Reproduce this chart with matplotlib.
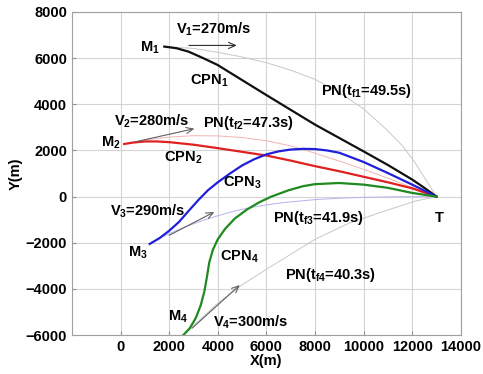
import numpy as np
import matplotlib
matplotlib.use('Agg')
import matplotlib.pyplot as plt

plt.rcParams['font.family'] = ['Liberation Sans', 'DejaVu Sans']
plt.rcParams['font.weight'] = 'bold'
plt.rcParams['mathtext.fontset'] = 'custom'
plt.rcParams['mathtext.rm'] = 'Liberation Sans:bold'
plt.rcParams['mathtext.it'] = 'Liberation Sans:bold'
plt.rcParams['mathtext.default'] = 'rm'

# CPN trajectories (x, y in m)
cpn1_x = [1800, 2300, 2800, 3400, 4000, 5000, 6000, 7000, 8000, 9000, 10000, 11000, 12000, 12500, 13000]
cpn1_y = [6500, 6430, 6280, 6000, 5700, 5050, 4400, 3760, 3120, 2540, 1960, 1370, 740, 380, 0]

cpn2_x = [150, 500, 1000, 1500, 2000, 3000, 4000, 5000, 6000, 7000, 8000, 9000, 10000, 11000, 12000, 13000]
cpn2_y = [2280, 2340, 2390, 2390, 2360, 2250, 2100, 1940, 1780, 1560, 1320, 1100, 860, 620, 360, 0]

cpn3_x = [1200, 1600, 2000, 2400, 2800, 3200, 3600, 4000, 4500, 5000, 5500, 6000, 6500, 7000, 7500, 8000, 8500, 9000, 10000, 11000, 12000, 13000]
cpn3_y = [-2050, -1800, -1480, -1100, -620, -150, 280, 620, 1000, 1350, 1620, 1830, 1960, 2040, 2070, 2060, 2000, 1900, 1500, 1020, 520, 0]

cpn4_x = [2580, 2850, 3100, 3300, 3450, 3550, 3650, 3800, 4000, 4300, 4700, 5200, 5700, 6200, 6900, 7500, 8000, 9000, 10000, 11000, 12000, 13000]
cpn4_y = [-6000, -5700, -5250, -4700, -4100, -3500, -2850, -2300, -1850, -1400, -950, -560, -250, 0, 270, 450, 540, 590, 520, 380, 160, 0]

# PN trajectories
pn1_x = [1800, 3000, 4000, 5000, 6000, 7000, 8000, 9000, 10000, 10900, 11600, 12100, 12550, 13000]
pn1_y = [6500, 6420, 6250, 6050, 5800, 5480, 5080, 4520, 3800, 2950, 2200, 1500, 750, 0]

pn2_x = [150, 1000, 2000, 3000, 4000, 5000, 6000, 7000, 8000, 9000, 10000, 11000, 12000, 13000]
pn2_y = [2280, 2450, 2580, 2640, 2630, 2560, 2420, 2200, 1880, 1540, 1180, 800, 400, 0]

pn3_x = [1200, 1800, 2500, 3200, 3900, 4600, 5300, 6000, 6700, 8000, 9000, 10000, 11500, 13000]
pn3_y = [-2050, -1700, -1380, -1100, -860, -650, -480, -360, -260, -130, -70, -30, -5, 0]

pn4_x = [2600, 3300, 4000, 5000, 6000, 7000, 8000, 9400, 10800, 12100, 13000]
pn4_y = [-6000, -5300, -4620, -3820, -3150, -2500, -1850, -1150, -650, -200, 0]

# velocity arrows (start, end)
arrows = [((2700, 6550), (4900, 6550)),
          ((500, 2350), (3150, 2970)),
          ((1900, -1730), (3960, -610)),
          ((2860, -5780), (4990, -3750))]
arrow_colors = ['#303030', '#606060', '#606060', '#606060']

# annotation texts: (x, y, text)
labels = [(2300, 7250, r'V$_1$=270m/s'),
          (800, 6450, r'M$_1$'),
          (2850, 5000, r'CPN$_1$'),
          (8250, 4580, r'PN(t$_{f1}$=49.5s)'),
          (-250, 3280, r'V$_2$=280m/s'),
          (3400, 3200, r'PN(t$_{f2}$=47.3s)'),
          (-800, 2330, r'M$_2$'),
          (1800, 1680, r'CPN$_2$'),
          (4200, 590, r'CPN$_3$'),
          (-450, -620, r'V$_3$=290m/s'),
          (6280, -925, r'PN(t$_{f3}$=41.9s)'),
          (12950, -925, 'T'),
          (300, -2440, r'M$_3$'),
          (4080, -2615, r'CPN$_4$'),
          (6750, -3390, r'PN(t$_{f4}$=40.3s)'),
          (1950, -5215, r'M$_4$'),
          (3800, -5430, r'V$_4$=300m/s')]

fig = plt.figure(figsize=(4.83, 3.74), dpi=100)
ax = fig.add_axes([0.149, 0.104, 0.805, 0.864])

# PN curves (thin, light)
ax.plot(pn1_x, pn1_y, color='#c8c8c8', lw=0.7)
ax.plot(pn2_x, pn2_y, color='#f2b4b4', lw=0.7)
ax.plot(pn3_x, pn3_y, color='#b4b4f0', lw=0.7)
ax.plot(pn4_x, pn4_y, color='#c8c8c8', lw=0.7)

# CPN curves
ax.plot(cpn1_x, cpn1_y, color='#101010', lw=1.6)
ax.plot(cpn2_x, cpn2_y, color='#e02020', lw=1.6)
ax.plot(cpn3_x, cpn3_y, color='#2020d8', lw=1.6)
ax.plot(cpn4_x, cpn4_y, color='#1f8a1f', lw=1.6)

for (s, e), c in zip(arrows, arrow_colors):
    ax.annotate('', xy=e, xytext=s,
                arrowprops=dict(arrowstyle='->,head_length=0.5,head_width=0.22', color=c, lw=0.8))

for x, y, t in labels:
    ax.text(x, y, t, fontsize=10.5, fontweight='bold', ha='left', va='center')

ax.set_xlim(-2000, 14000)
ax.set_ylim(-6000, 8000)
ax.set_xticks(np.arange(0, 14001, 2000))
ax.set_yticks(np.arange(-6000, 8001, 2000))
ax.tick_params(labelsize=10.5, direction='in', length=3, color='#909090')
for lab in ax.get_xticklabels() + ax.get_yticklabels():
    lab.set_fontweight('bold')
ax.grid(True, color='#d4d4d4', lw=0.8)
ax.set_axisbelow(True)
for sp in ax.spines.values():
    sp.set_color('#a0a0a0')
ax.set_xlabel('X(m)', fontsize=10.5, fontweight='bold', labelpad=0)
ax.set_ylabel('Y(m)', fontsize=10.5, fontweight='bold', labelpad=2)

fig.savefig('out.png', dpi=100)
